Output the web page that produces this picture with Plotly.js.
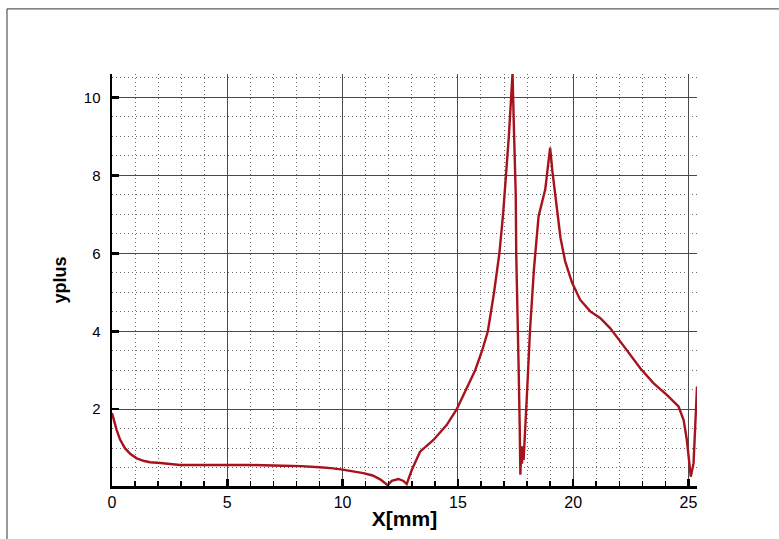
<!DOCTYPE html>
<html>
<head>
<meta charset="utf-8">
<script src="https://cdn.plot.ly/plotly-3.0.1.min.js"></script>
<style>html,body{margin:0;padding:0;background:#fff;}#chart{width:779px;height:539px;}</style>
</head>
<body>
<div id="chart"></div>
<script>
const xValues = [0, 0.1, 0.2, 0.35, 0.56, 0.8, 1.07, 1.4, 1.65, 2.1, 2.95, 4, 5, 6, 7.4, 8.2, 9.0, 9.5, 10, 10.5, 10.9, 11.3, 11.63, 11.96, 12.13, 12.42, 12.64, 12.78, 13.0, 13.36, 13.94, 14.52, 14.95, 15.35, 15.75, 16.05, 16.3, 16.57, 16.8, 16.96, 17.09, 17.21, 17.31, 17.37, 17.44, 17.48, 17.51, 17.53, 17.58, 17.63, 17.68, 17.71, 17.75, 17.78, 17.82, 17.85, 17.99, 18.13, 18.3, 18.5, 18.79, 19.0, 19.1, 19.25, 19.45, 19.65, 19.95, 20.3, 20.74, 21.17, 21.6, 22.04, 22.47, 22.91, 23.48, 24.06, 24.57, 24.79, 24.93, 25.05, 25.1, 25.22, 25.29, 25.37];
const yplusValues = [1.9, 1.66, 1.47, 1.22, 1.0, 0.85, 0.74, 0.67, 0.64, 0.62, 0.57, 0.57, 0.57, 0.57, 0.55, 0.54, 0.51, 0.49, 0.45, 0.41, 0.36, 0.3, 0.2, 0.05, 0.16, 0.21, 0.16, 0.08, 0.44, 0.91, 1.21, 1.6, 2.0, 2.5, 3.0, 3.5, 4.0, 5.0, 6.0, 7.0, 8.0, 9.0, 10.0, 10.62, 9.0, 7.98, 7.5, 6.0, 4.0, 3.2, 1.6, 0.32, 1.05, 0.6, 1.05, 0.7, 2.32, 4.04, 5.6, 6.95, 7.64, 8.71, 8.1, 7.3, 6.4, 5.8, 5.25, 4.81, 4.51, 4.34, 4.08, 3.74, 3.4, 3.05, 2.67, 2.37, 2.07, 1.72, 1.21, 0.61, 0.27, 0.61, 1.47, 2.58];
const xTickValues = [0, 5, 10, 15, 20, 25];
const yTickValues = [2, 4, 6, 8, 10];

const font = "Liberation Sans, Arial, Helvetica, sans-serif";

const trace = {
  x: xValues,
  y: yplusValues,
  type: 'scatter',
  mode: 'lines',
  line: {color: '#a8121c', width: 2.4},
  hoverinfo: 'skip'
};

const layout = {
  width: 779,
  height: 539,
  margin: {l: 112, r: 82, t: 74, b: 53},
  paper_bgcolor: '#ffffff',
  plot_bgcolor: '#ffffff',
  showlegend: false,
  font: {family: font, size: 15, color: '#000'},
  xaxis: {
    range: [0, 25.37],
    tickvals: xTickValues,
    ticktext: xTickValues.map(String),
    ticks: 'inside',
    ticklen: 7,
    tickwidth: 2.5,
    tickcolor: '#000',
    showline: true,
    linecolor: '#000',
    linewidth: 2.5,
    mirror: false,
    zeroline: false,
    showgrid: true,
    gridcolor: '#4a4a4a',
    gridwidth: 1,
    tickfont: {family: font, size: 16, color: '#000'},
    minor: {dtick: 1, tick0: 0, ticks: 'inside', ticklen: 5, tickwidth: 1.5, tickcolor: '#000', showgrid: true, gridcolor: '#6a6a6a', griddash: '1px,3px', gridwidth: 1},
    title: {text: 'X[mm]', font: {family: font, size: 21, color: '#000', weight: 'bold'}, standoff: 2}
  },
  yaxis: {
    range: [0.03, 10.6],
    tickvals: yTickValues,
    ticktext: yTickValues.map(String),
    ticks: 'inside',
    ticklen: 7,
    tickwidth: 2.5,
    tickcolor: '#000',
    showline: true,
    linecolor: '#000',
    linewidth: 2.5,
    zeroline: false,
    showgrid: true,
    gridcolor: '#4a4a4a',
    gridwidth: 1,
    ticklabelstandoff: 6,
    tickfont: {family: font, size: 15, color: '#000'},
    minor: {dtick: 0.5, tick0: 0, ticks: '', showgrid: true, gridcolor: '#6a6a6a', griddash: '1px,3px', gridwidth: 1},
    title: {text: 'yplus', font: {family: font, size: 18, color: '#000', weight: 'bold'}, standoff: 13}
  },
  shapes: [
    {type: 'line', xref: 'paper', yref: 'paper', x0: -0.1795, x1: 1.14, y0: 1.158, y1: 1.158, line: {color: '#333', width: 1}},
    {type: 'line', xref: 'paper', yref: 'paper', x0: -0.1795, x1: -0.1795, y0: 1.158, y1: -0.13, line: {color: '#333', width: 1}}
  ]
};

Plotly.newPlot('chart', [trace], layout, {displayModeBar: false, staticPlot: true});
</script>
</body>
</html>
